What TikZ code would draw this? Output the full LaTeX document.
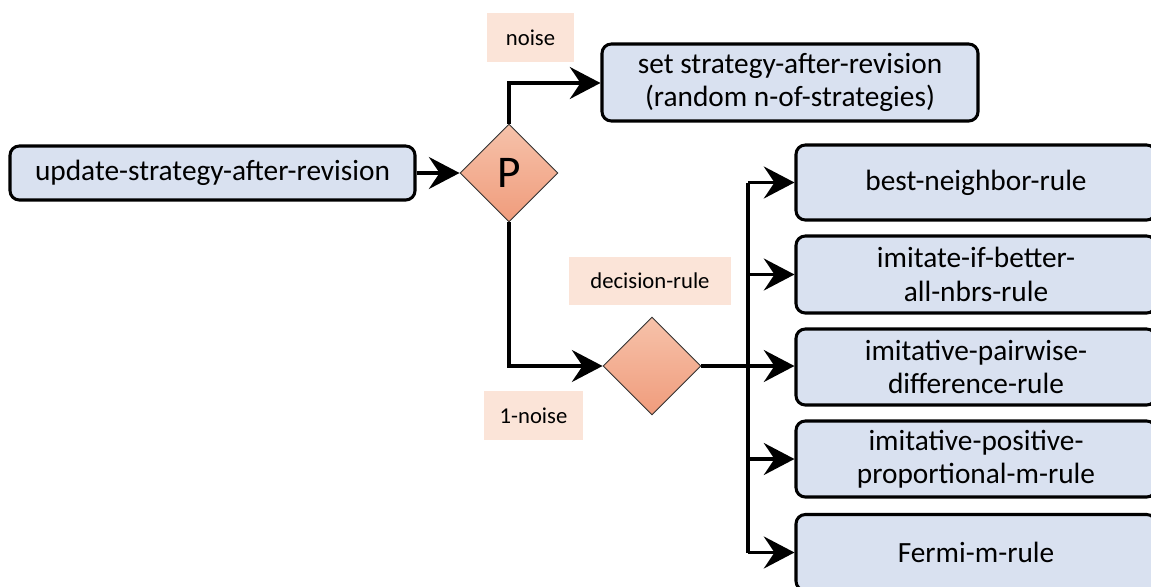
\documentclass[tikz,border=0pt]{standalone}
\usepackage{fontspec}
\setmainfont{Carlito}
\usetikzlibrary{shapes.geometric,arrows.meta}
\definecolor{boxblue}{HTML}{D9E1F0}
\definecolor{lblfill}{HTML}{FBE4D8}
\definecolor{dtop}{HTML}{F6C2AA}
\definecolor{dbot}{HTML}{F09C7C}
\begin{document}
\begin{tikzpicture}[x=0.75pt,y=-0.75pt,
  rbox/.style={draw=black,line width=2.3pt,rounded corners=7pt,fill=boxblue,align=center,inner sep=0pt,font=\fontsize{22}{25}\selectfont},
  lbl/.style={fill=lblfill,inner sep=0pt,font=\fontsize{17}{20}\selectfont},
  dia/.style={diamond,draw=black!80,line width=0.7pt,top color=dtop,bottom color=dbot,inner sep=0pt,minimum width=73.5pt,minimum height=73.5pt},
  conn/.style={line width=2.3pt,-{Stealth[length=23pt,width=24pt,inset=8pt]}},
  wire/.style={line width=2.3pt}]
\useasboundingbox (0,0) rectangle (1151,586);
% nodes
\node[rbox,minimum width=303.75pt,minimum height=40.5pt] (upd) at (212.5,173) {update-strategy-after-revision};
\node[dia] (p) at (509,173) {\fontsize{34}{38}\selectfont P};
\node[rbox,minimum width=282pt,minimum height=57.75pt] (set) at (790,82.5) {set strategy-after-revision\\(random n-of-strategies)};
\node[dia] (d) at (652,366) {};
\node[lbl,minimum width=65pt,minimum height=36.75pt] (noise) at (530.5,37.5) {noise};
\node[lbl,minimum width=121.5pt,minimum height=36pt] (dr) at (650,281) {decision-rule};
\node[lbl,minimum width=74pt,minimum height=36.75pt] (one) at (533.5,415.5) {1-noise};
\node[rbox,minimum width=270pt,minimum height=56.25pt] (b1) at (976,182.5) {best-neighbor-rule};
\node[rbox,minimum width=270pt,minimum height=57.75pt] (b2) at (976,274.5) {imitate-if-better-\\all-nbrs-rule};
\node[rbox,minimum width=270pt,minimum height=57pt] (b3) at (976,367) {imitative-pairwise-\\difference-rule};
\node[rbox,minimum width=270pt,minimum height=57pt] (b4) at (976,459) {imitative-positive-\\proportional-m-rule};
\node[rbox,minimum width=270pt,minimum height=57pt] (b5) at (976,552.5) {Fermi-m-rule};
\coordinate (bus) at (748,366);
% connectors
\draw[conn] (upd) -- (p);
\draw[conn] (p.north) |- (set.west |- 0,83);
\draw[conn] (p.south) |- (d.west);
\draw[conn] (d.east) -- (b3.west |- d.east);
\draw[wire] (bus |- b1.west) -- (bus |- b5.west);
\draw[conn] (bus |- b1.west) -- (b1.west);
\draw[conn] (bus |- b2.west) -- (b2.west);
\draw[conn] (bus |- b4.west) -- (b4.west);
\draw[conn] (bus |- b5.west) -- (b5.west);
\end{tikzpicture}
\end{document}
